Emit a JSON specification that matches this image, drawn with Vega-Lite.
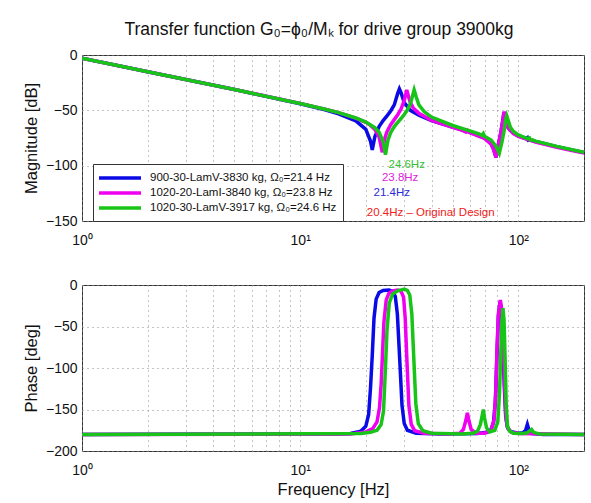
{
  "$schema": "https://vega.github.io/schema/vega-lite/v6.json",
  "background": "white",
  "padding": {"left": 22, "top": 20, "right": 7, "bottom": 4},
  "config": {
    "font": "Liberation Sans",
    "view": {"stroke": "#333333", "strokeWidth": 1},
    "axis": {
      "labelFont": "Liberation Sans",
      "labelFontSize": 14,
      "labelColor": "#111111",
      "titleFont": "Liberation Sans",
      "titleFontSize": 16.5,
      "titleFontWeight": "normal",
      "titleColor": "#111111",
      "grid": true,
      "gridColor": "#8a8a8a",
      "gridDash": [1, 4],
      "gridWidth": 1,
      "domain": false,
      "ticks": false,
      "labelPadding": 5
    }
  },
  "datasets": {
    "mag": [
      {"series": "s1", "freq": 1, "db": -3}, {"series": "s1", "freq": 2, "db": -15.1}, {"series": "s1", "freq": 5, "db": -31.2},
      {"series": "s1", "freq": 10, "db": -44}, {"series": "s1", "freq": 13, "db": -49.5}, {"series": "s1", "freq": 15, "db": -53.1},
      {"series": "s1", "freq": 18, "db": -59.5}, {"series": "s1", "freq": 20, "db": -67.2}, {"series": "s1", "freq": 21, "db": -77.7},
      {"series": "s1", "freq": 21.4, "db": -85.8}, {"series": "s1", "freq": 22, "db": -73.8}, {"series": "s1", "freq": 23, "db": -64.6},
      {"series": "s1", "freq": 24, "db": -59.3}, {"series": "s1", "freq": 25, "db": -55}, {"series": "s1", "freq": 26, "db": -50.6},
      {"series": "s1", "freq": 27, "db": -45.1}, {"series": "s1", "freq": 28, "db": -34.7}, {"series": "s1", "freq": 28.5, "db": -30.7},
      {"series": "s1", "freq": 29, "db": -34.1}, {"series": "s1", "freq": 30, "db": -43.1}, {"series": "s1", "freq": 32, "db": -50},
      {"series": "s1", "freq": 35, "db": -54.4}, {"series": "s1", "freq": 40, "db": -59.3}, {"series": "s1", "freq": 50, "db": -65.2},
      {"series": "s1", "freq": 60, "db": -69.8}, {"series": "s1", "freq": 70, "db": -75}, {"series": "s1", "freq": 75, "db": -80.1},
      {"series": "s1", "freq": 77, "db": -84.9}, {"series": "s1", "freq": 79, "db": -92.5}, {"series": "s1", "freq": 81, "db": -80.7},
      {"series": "s1", "freq": 83, "db": -70.7}, {"series": "s1", "freq": 85, "db": -58}, {"series": "s1", "freq": 86, "db": -51.5},
      {"series": "s1", "freq": 88, "db": -61.2}, {"series": "s1", "freq": 90, "db": -65.9}, {"series": "s1", "freq": 95, "db": -70.6},
      {"series": "s1", "freq": 100, "db": -73}, {"series": "s1", "freq": 108, "db": -75.5}, {"series": "s1", "freq": 110, "db": -74.6},
      {"series": "s1", "freq": 111, "db": -77}, {"series": "s1", "freq": 113, "db": -76.6}, {"series": "s1", "freq": 120, "db": -78.2},
      {"series": "s1", "freq": 150, "db": -82.8}, {"series": "s1", "freq": 200, "db": -88.2},

      {"series": "s2", "freq": 1, "db": -3}, {"series": "s2", "freq": 2, "db": -15.1}, {"series": "s2", "freq": 5, "db": -31.2},
      {"series": "s2", "freq": 10, "db": -43.7}, {"series": "s2", "freq": 13, "db": -48.9}, {"series": "s2", "freq": 15, "db": -52.1},
      {"series": "s2", "freq": 18, "db": -57}, {"series": "s2", "freq": 20, "db": -60.9}, {"series": "s2", "freq": 21, "db": -63.6},
      {"series": "s2", "freq": 22, "db": -67.2}, {"series": "s2", "freq": 23, "db": -74}, {"series": "s2", "freq": 23.8, "db": -87.9},
      {"series": "s2", "freq": 24.5, "db": -74.4}, {"series": "s2", "freq": 25, "db": -69.3}, {"series": "s2", "freq": 26, "db": -63},
      {"series": "s2", "freq": 27, "db": -58.4}, {"series": "s2", "freq": 28, "db": -54}, {"series": "s2", "freq": 29, "db": -48.9},
      {"series": "s2", "freq": 30, "db": -40.9}, {"series": "s2", "freq": 30.8, "db": -31.6}, {"series": "s2", "freq": 31.5, "db": -38.7},
      {"series": "s2", "freq": 32, "db": -43.1}, {"series": "s2", "freq": 33, "db": -47.8}, {"series": "s2", "freq": 35, "db": -52.7},
      {"series": "s2", "freq": 40, "db": -59}, {"series": "s2", "freq": 50, "db": -65.4}, {"series": "s2", "freq": 55, "db": -67.9},
      {"series": "s2", "freq": 57.5, "db": -69.6}, {"series": "s2", "freq": 58.4, "db": -68}, {"series": "s2", "freq": 60, "db": -70.2},
      {"series": "s2", "freq": 70, "db": -75.4}, {"series": "s2", "freq": 75, "db": -80.5}, {"series": "s2", "freq": 77, "db": -85.3},
      {"series": "s2", "freq": 79, "db": -92.5}, {"series": "s2", "freq": 81, "db": -81.1}, {"series": "s2", "freq": 83, "db": -71.1},
      {"series": "s2", "freq": 85, "db": -58.5}, {"series": "s2", "freq": 86, "db": -51.2}, {"series": "s2", "freq": 88, "db": -61.6},
      {"series": "s2", "freq": 90, "db": -66.3}, {"series": "s2", "freq": 95, "db": -71.1}, {"series": "s2", "freq": 100, "db": -73.5},
      {"series": "s2", "freq": 120, "db": -78.7}, {"series": "s2", "freq": 150, "db": -83.3}, {"series": "s2", "freq": 200, "db": -88.7},

      {"series": "s3", "freq": 1, "db": -3}, {"series": "s3", "freq": 2, "db": -15.1}, {"series": "s3", "freq": 5, "db": -31.2},
      {"series": "s3", "freq": 10, "db": -43.8}, {"series": "s3", "freq": 13, "db": -49}, {"series": "s3", "freq": 15, "db": -52.1},
      {"series": "s3", "freq": 18, "db": -56.9}, {"series": "s3", "freq": 20, "db": -60.6}, {"series": "s3", "freq": 22, "db": -65.7},
      {"series": "s3", "freq": 23, "db": -69.8}, {"series": "s3", "freq": 24, "db": -78.2}, {"series": "s3", "freq": 24.6, "db": -90},
      {"series": "s3", "freq": 25.3, "db": -76.4}, {"series": "s3", "freq": 26, "db": -70.1}, {"series": "s3", "freq": 27, "db": -64.7},
      {"series": "s3", "freq": 28, "db": -60.8}, {"series": "s3", "freq": 29, "db": -57.4}, {"series": "s3", "freq": 30, "db": -53.8},
      {"series": "s3", "freq": 31, "db": -49.8}, {"series": "s3", "freq": 32, "db": -44.1}, {"series": "s3", "freq": 33.3, "db": -31.6},
      {"series": "s3", "freq": 34, "db": -37.6}, {"series": "s3", "freq": 35, "db": -45}, {"series": "s3", "freq": 37, "db": -51.1},
      {"series": "s3", "freq": 40, "db": -56.1}, {"series": "s3", "freq": 50, "db": -63.7}, {"series": "s3", "freq": 60, "db": -68.6},
      {"series": "s3", "freq": 66, "db": -71.3}, {"series": "s3", "freq": 68, "db": -72.6}, {"series": "s3", "freq": 69.1, "db": -71},
      {"series": "s3", "freq": 70, "db": -73.4}, {"series": "s3", "freq": 75, "db": -76.8}, {"series": "s3", "freq": 79, "db": -82.4},
      {"series": "s3", "freq": 81.8, "db": -88.8}, {"series": "s3", "freq": 84, "db": -79.2}, {"series": "s3", "freq": 86, "db": -68.9},
      {"series": "s3", "freq": 87.5, "db": -58.6}, {"series": "s3", "freq": 88.5, "db": -55}, {"series": "s3", "freq": 90, "db": -59.5},
      {"series": "s3", "freq": 92, "db": -65.4}, {"series": "s3", "freq": 95, "db": -69.1}, {"series": "s3", "freq": 100, "db": -72.2},
      {"series": "s3", "freq": 110, "db": -75.6}, {"series": "s3", "freq": 112.5, "db": -74.9}, {"series": "s3", "freq": 114, "db": -77},
      {"series": "s3", "freq": 116, "db": -76.6}, {"series": "s3", "freq": 120, "db": -77.8}, {"series": "s3", "freq": 150, "db": -82.6},
      {"series": "s3", "freq": 200, "db": -88}
    ],
    "phase": [
      {"series": "s1", "freq": 1, "deg": -180}, {"series": "s1", "freq": 15, "deg": -179.5}, {"series": "s1", "freq": 17, "deg": -179},
      {"series": "s1", "freq": 19, "deg": -176}, {"series": "s1", "freq": 20, "deg": -170}, {"series": "s1", "freq": 20.6, "deg": -156},
      {"series": "s1", "freq": 21, "deg": -125}, {"series": "s1", "freq": 21.4, "deg": -85}, {"series": "s1", "freq": 21.8, "deg": -40},
      {"series": "s1", "freq": 22.3, "deg": -17}, {"series": "s1", "freq": 23, "deg": -9}, {"series": "s1", "freq": 24, "deg": -6.5},
      {"series": "s1", "freq": 25.5, "deg": -6}, {"series": "s1", "freq": 26.5, "deg": -7.5}, {"series": "s1", "freq": 27.3, "deg": -14},
      {"series": "s1", "freq": 27.9, "deg": -35}, {"series": "s1", "freq": 28.6, "deg": -90}, {"series": "s1", "freq": 29.3, "deg": -145},
      {"series": "s1", "freq": 30, "deg": -167}, {"series": "s1", "freq": 31, "deg": -175}, {"series": "s1", "freq": 34, "deg": -178.5},
      {"series": "s1", "freq": 45, "deg": -179.5}, {"series": "s1", "freq": 65, "deg": -179}, {"series": "s1", "freq": 72, "deg": -177.5},
      {"series": "s1", "freq": 75, "deg": -174}, {"series": "s1", "freq": 77, "deg": -165}, {"series": "s1", "freq": 78.5, "deg": -140},
      {"series": "s1", "freq": 79.8, "deg": -85}, {"series": "s1", "freq": 81, "deg": -38}, {"series": "s1", "freq": 82.4, "deg": -20},
      {"series": "s1", "freq": 83.8, "deg": -32}, {"series": "s1", "freq": 85, "deg": -70}, {"series": "s1", "freq": 86.2, "deg": -120},
      {"series": "s1", "freq": 87.5, "deg": -158}, {"series": "s1", "freq": 89, "deg": -171}, {"series": "s1", "freq": 92, "deg": -176.5},
      {"series": "s1", "freq": 100, "deg": -178.5}, {"series": "s1", "freq": 105, "deg": -178}, {"series": "s1", "freq": 108, "deg": -175},
      {"series": "s1", "freq": 110, "deg": -168}, {"series": "s1", "freq": 112, "deg": -175}, {"series": "s1", "freq": 116, "deg": -179},
      {"series": "s1", "freq": 130, "deg": -180}, {"series": "s1", "freq": 200, "deg": -180},

      {"series": "s2", "freq": 1, "deg": -180}, {"series": "s2", "freq": 17, "deg": -179.5}, {"series": "s2", "freq": 20, "deg": -177},
      {"series": "s2", "freq": 21.5, "deg": -173}, {"series": "s2", "freq": 22.5, "deg": -165}, {"series": "s2", "freq": 23.1, "deg": -148},
      {"series": "s2", "freq": 23.5, "deg": -120}, {"series": "s2", "freq": 23.8, "deg": -88}, {"series": "s2", "freq": 24.2, "deg": -45},
      {"series": "s2", "freq": 24.8, "deg": -18}, {"series": "s2", "freq": 25.5, "deg": -10}, {"series": "s2", "freq": 26.5, "deg": -7},
      {"series": "s2", "freq": 28, "deg": -6}, {"series": "s2", "freq": 29, "deg": -7.5}, {"series": "s2", "freq": 29.8, "deg": -15},
      {"series": "s2", "freq": 30.3, "deg": -40}, {"series": "s2", "freq": 30.9, "deg": -95}, {"series": "s2", "freq": 31.5, "deg": -145},
      {"series": "s2", "freq": 32.3, "deg": -168}, {"series": "s2", "freq": 33.5, "deg": -175.5}, {"series": "s2", "freq": 37, "deg": -178.5},
      {"series": "s2", "freq": 48, "deg": -179.5}, {"series": "s2", "freq": 54, "deg": -178.5}, {"series": "s2", "freq": 56, "deg": -174},
      {"series": "s2", "freq": 57.5, "deg": -163}, {"series": "s2", "freq": 58.4, "deg": -154}, {"series": "s2", "freq": 59.3, "deg": -163},
      {"series": "s2", "freq": 60.8, "deg": -174}, {"series": "s2", "freq": 64, "deg": -178.5}, {"series": "s2", "freq": 70, "deg": -178.5},
      {"series": "s2", "freq": 75, "deg": -175}, {"series": "s2", "freq": 77.5, "deg": -162}, {"series": "s2", "freq": 78.8, "deg": -130},
      {"series": "s2", "freq": 79.8, "deg": -80}, {"series": "s2", "freq": 81, "deg": -35}, {"series": "s2", "freq": 82.7, "deg": -18},
      {"series": "s2", "freq": 84, "deg": -30}, {"series": "s2", "freq": 85.3, "deg": -70}, {"series": "s2", "freq": 86.5, "deg": -120},
      {"series": "s2", "freq": 87.8, "deg": -160}, {"series": "s2", "freq": 89.5, "deg": -173}, {"series": "s2", "freq": 93, "deg": -177.5},
      {"series": "s2", "freq": 100, "deg": -179}, {"series": "s2", "freq": 200, "deg": -180},

      {"series": "s3", "freq": 1, "deg": -180}, {"series": "s3", "freq": 19, "deg": -179}, {"series": "s3", "freq": 21, "deg": -177.5},
      {"series": "s3", "freq": 22.5, "deg": -175}, {"series": "s3", "freq": 23.5, "deg": -168}, {"series": "s3", "freq": 24.1, "deg": -152},
      {"series": "s3", "freq": 24.6, "deg": -100}, {"series": "s3", "freq": 25, "deg": -55}, {"series": "s3", "freq": 25.6, "deg": -22},
      {"series": "s3", "freq": 26.5, "deg": -11}, {"series": "s3", "freq": 28, "deg": -7}, {"series": "s3", "freq": 30, "deg": -5},
      {"series": "s3", "freq": 31, "deg": -6.5}, {"series": "s3", "freq": 31.8, "deg": -12}, {"series": "s3", "freq": 32.5, "deg": -35},
      {"series": "s3", "freq": 33.2, "deg": -90}, {"series": "s3", "freq": 33.9, "deg": -143}, {"series": "s3", "freq": 34.8, "deg": -167},
      {"series": "s3", "freq": 36.5, "deg": -175.5}, {"series": "s3", "freq": 40, "deg": -178.5}, {"series": "s3", "freq": 55, "deg": -179.5},
      {"series": "s3", "freq": 62, "deg": -178.5}, {"series": "s3", "freq": 65, "deg": -176}, {"series": "s3", "freq": 67, "deg": -168},
      {"series": "s3", "freq": 68.2, "deg": -158}, {"series": "s3", "freq": 69.1, "deg": -150}, {"series": "s3", "freq": 70, "deg": -160},
      {"series": "s3", "freq": 71.5, "deg": -172}, {"series": "s3", "freq": 74, "deg": -177}, {"series": "s3", "freq": 78, "deg": -175},
      {"series": "s3", "freq": 80.5, "deg": -165}, {"series": "s3", "freq": 82, "deg": -130}, {"series": "s3", "freq": 83, "deg": -85},
      {"series": "s3", "freq": 84, "deg": -45}, {"series": "s3", "freq": 85, "deg": -28}, {"series": "s3", "freq": 86, "deg": -42},
      {"series": "s3", "freq": 87, "deg": -90}, {"series": "s3", "freq": 88, "deg": -145}, {"series": "s3", "freq": 89.2, "deg": -170},
      {"series": "s3", "freq": 91, "deg": -176}, {"series": "s3", "freq": 95, "deg": -178.5}, {"series": "s3", "freq": 105, "deg": -179},
      {"series": "s3", "freq": 110, "deg": -178}, {"series": "s3", "freq": 113, "deg": -175.5}, {"series": "s3", "freq": 115, "deg": -174},
      {"series": "s3", "freq": 117.5, "deg": -177.5}, {"series": "s3", "freq": 125, "deg": -179.5}, {"series": "s3", "freq": 200, "deg": -180}
    ],
    "notes": [
      {"note": "24.6Hz", "freq": 25.4, "db": -99},
      {"note": "23.8Hz", "freq": 23.7, "db": -111},
      {"note": "21.4Hz", "freq": 21.7, "db": -124.5},
      {"note": "20.4Hz – Original Design", "freq": 20.2, "db": -142.5}
    ]
  },
  "bounds": "flush",
  "spacing": 64,
  "resolve": {"scale": {"color": "independent"}},
  "vconcat": [
    {
      "width": 502,
      "height": 166,
      "title": {
        "text": "Transfer function G₀=ϕ₀/Mₖ for drive group 3900kg",
        "font": "Liberation Sans",
        "fontSize": 17.5,
        "fontWeight": "normal",
        "color": "#111111",
        "offset": 10,
        "dx": -14
      },
      "resolve": {"scale": {"color": "independent"}},
      "layer": [
        {
          "data": {"name": "mag"},
          "mark": {"type": "line", "strokeWidth": 3.5, "clip": true},
          "encoding": {
            "x": {
              "field": "freq", "type": "quantitative",
              "scale": {"type": "log", "domain": [1, 200], "nice": false},
              "axis": {
                "title": null,
                "values": [1, 2, 3, 4, 5, 6, 7, 8, 9, 10, 20, 30, 40, 50, 60, 70, 80, 90, 100, 200],
                "labelExpr": "datum.value == 1 ? '10⁰' : datum.value == 10 ? '10¹' : datum.value == 100 ? '10²' : ''",
                "labelFlush": false,
                "labelOverlap": false,
                "labelPadding": 12
              }
            },
            "y": {
              "field": "db", "type": "quantitative",
              "scale": {"domain": [-150, 0], "nice": false},
              "axis": {"title": "Magnitude [dB]", "values": [-150, -100, -50, 0], "titlePadding": 6}
            },
            "color": {
              "field": "series", "type": "nominal",
              "scale": {"domain": ["s1", "s2", "s3"], "range": ["#0a0ae6", "#f000f0", "#19c419"]},
              "legend": {
                "title": null,
                "orient": "none",
                "legendX": 11,
                "legendY": 109,
                "strokeColor": "#333333",
                "fillColor": "white",
                "padding": 6,
                "symbolType": "M-3.5,0H3.5",
                "symbolSize": 144,
                "symbolStrokeWidth": 3.5,
                "symbolOffset": 13,
                "labelOffset": 22,
                "labelLimit": 400,
                "labelFont": "Liberation Sans",
                "labelFontSize": 11.5,
                "labelColor": "#111111",
                "rowPadding": 0,
                "labelExpr": "datum.label == 's1' ? '900-30-LamV-3830 kg, Ω₀=21.4 Hz' : datum.label == 's2' ? '1020-20-LamI-3840 kg, Ω₀=23.8 Hz' : '1020-30-LamV-3917 kg, Ω₀=24.6 Hz'"
              }
            }
          }
        },
        {
          "data": {"name": "notes"},
          "mark": {"type": "text", "align": "left", "baseline": "middle", "font": "Liberation Sans", "fontSize": 11.5},
          "encoding": {
            "x": {"field": "freq", "type": "quantitative"},
            "y": {"field": "db", "type": "quantitative"},
            "text": {"field": "note"},
            "color": {
              "field": "note", "type": "nominal",
              "scale": {
                "domain": ["24.6Hz", "23.8Hz", "21.4Hz", "20.4Hz – Original Design"],
                "range": ["#33c033", "#e020e0", "#2a2ad8", "#ee2020"]
              },
              "legend": null
            }
          }
        }
      ]
    },
    {
      "width": 502,
      "height": 166,
      "data": {"name": "phase"},
      "mark": {"type": "line", "strokeWidth": 3.5, "clip": true},
      "encoding": {
        "x": {
          "field": "freq", "type": "quantitative",
          "scale": {"type": "log", "domain": [1, 200], "nice": false},
          "axis": {
            "title": "Frequency [Hz]",
            "titlePadding": 4,
            "values": [1, 2, 3, 4, 5, 6, 7, 8, 9, 10, 20, 30, 40, 50, 60, 70, 80, 90, 100, 200],
            "labelExpr": "datum.value == 1 ? '10⁰' : datum.value == 10 ? '10¹' : datum.value == 100 ? '10²' : ''",
            "labelFlush": false,
            "labelOverlap": false,
            "labelPadding": 12
          }
        },
        "y": {
          "field": "deg", "type": "quantitative",
          "scale": {"domain": [-200, 0], "nice": false},
          "axis": {"title": "Phase [deg]", "values": [-200, -150, -100, -50, 0], "titlePadding": 6}
        },
        "color": {
          "field": "series", "type": "nominal",
          "scale": {"domain": ["s1", "s2", "s3"], "range": ["#0a0ae6", "#f000f0", "#19c419"]},
          "legend": null
        }
      }
    }
  ]
}
